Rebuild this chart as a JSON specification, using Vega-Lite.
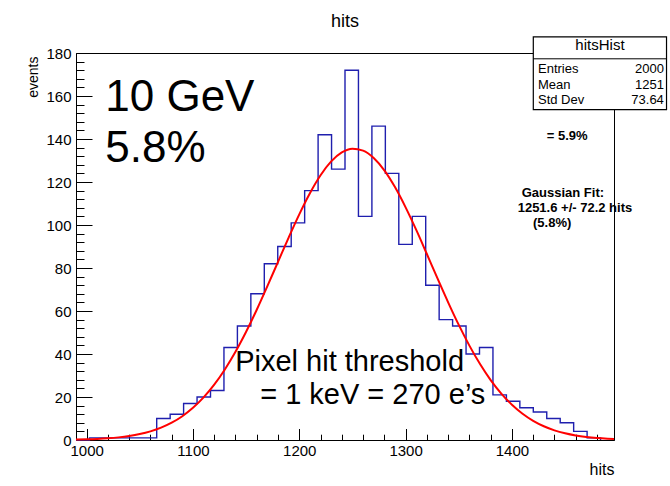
{
  "$schema": "https://vega.github.io/schema/vega-lite/v6.json",
  "width": 538,
  "height": 387,
  "autosize": {"type": "none"},
  "padding": {"left": 76, "top": 53, "right": 56, "bottom": 46},
  "background": "white",
  "config": {
    "font": "Liberation Sans",
    "view": {"stroke": "black", "strokeWidth": 1},
    "text": {"font": "Liberation Sans", "color": "black"}
  },
  "resolve": {"axis": {"x": "independent", "y": "independent"}},
  "datasets": {
    "hist": [
      {"lo": 990, "n": 0}, {"lo": 1002.65, "n": 1}, {"lo": 1015.3, "n": 1}, {"lo": 1027.95, "n": 1},
      {"lo": 1040.6, "n": 1}, {"lo": 1053.25, "n": 1}, {"lo": 1065.9, "n": 10}, {"lo": 1078.55, "n": 12},
      {"lo": 1091.2, "n": 17}, {"lo": 1103.85, "n": 20}, {"lo": 1116.5, "n": 23}, {"lo": 1129.15, "n": 43},
      {"lo": 1141.8, "n": 53}, {"lo": 1154.45, "n": 68}, {"lo": 1167.1, "n": 82}, {"lo": 1179.75, "n": 90},
      {"lo": 1192.4, "n": 101}, {"lo": 1205.05, "n": 116}, {"lo": 1217.7, "n": 142}, {"lo": 1230.35, "n": 126},
      {"lo": 1243, "n": 172}, {"lo": 1255.65, "n": 104}, {"lo": 1268.3, "n": 146}, {"lo": 1280.95, "n": 124},
      {"lo": 1293.6, "n": 91}, {"lo": 1306.25, "n": 104}, {"lo": 1318.9, "n": 72}, {"lo": 1331.55, "n": 56},
      {"lo": 1344.2, "n": 53}, {"lo": 1356.85, "n": 40}, {"lo": 1369.5, "n": 43}, {"lo": 1382.15, "n": 21},
      {"lo": 1394.8, "n": 18}, {"lo": 1407.45, "n": 15}, {"lo": 1420.1, "n": 13}, {"lo": 1432.75, "n": 10},
      {"lo": 1445.4, "n": 8}, {"lo": 1458.05, "n": 4}, {"lo": 1470.7, "n": 1}, {"lo": 1483.35, "n": 0}
    ],
    "fit": [
      {"x": 990, "y": 0.19}, {"x": 1000, "y": 0.31}, {"x": 1010, "y": 0.5}, {"x": 1020, "y": 0.79},
      {"x": 1030, "y": 1.22}, {"x": 1040, "y": 1.85}, {"x": 1050, "y": 2.75}, {"x": 1060, "y": 4.01},
      {"x": 1070, "y": 5.73}, {"x": 1080, "y": 8.04}, {"x": 1090, "y": 11.07}, {"x": 1100, "y": 14.96},
      {"x": 1110, "y": 19.81}, {"x": 1120, "y": 25.73}, {"x": 1130, "y": 32.81}, {"x": 1140, "y": 41.02},
      {"x": 1150, "y": 50.35}, {"x": 1160, "y": 60.58}, {"x": 1170, "y": 71.54}, {"x": 1180, "y": 82.87},
      {"x": 1190, "y": 94.16}, {"x": 1200, "y": 104.96}, {"x": 1210, "y": 114.77}, {"x": 1220, "y": 123.13},
      {"x": 1230, "y": 129.57}, {"x": 1240, "y": 133.77}, {"x": 1250, "y": 135.47}, {"x": 1260, "y": 134.59},
      {"x": 1270, "y": 131.17}, {"x": 1280, "y": 125.42}, {"x": 1290, "y": 117.63}, {"x": 1300, "y": 108.2},
      {"x": 1310, "y": 97.7}, {"x": 1320, "y": 86.5}, {"x": 1330, "y": 75.15}, {"x": 1340, "y": 64.04},
      {"x": 1350, "y": 53.52}, {"x": 1360, "y": 43.9}, {"x": 1370, "y": 35.32}, {"x": 1380, "y": 27.87},
      {"x": 1390, "y": 21.57}, {"x": 1400, "y": 16.38}, {"x": 1410, "y": 12.21}, {"x": 1420, "y": 8.92},
      {"x": 1430, "y": 6.4}, {"x": 1440, "y": 4.5}, {"x": 1450, "y": 3.11}, {"x": 1460, "y": 2.1},
      {"x": 1470, "y": 1.4}, {"x": 1480, "y": 0.91}, {"x": 1490, "y": 0.58}, {"x": 1496, "y": 0.44}
    ]
  },
  "layer": [
    {
      "data": {"name": "hist"},
      "mark": {"type": "line", "interpolate": "step-after", "color": "#1f1fae", "strokeWidth": 1.4},
      "encoding": {
        "x": {
          "field": "lo", "type": "quantitative",
          "scale": {"domain": [990, 1496], "nice": false, "zero": false},
          "axis": {
            "orient": "bottom",
            "title": "hits",
            "values": [1000, 1100, 1200, 1300, 1400],
            "format": "d",
            "tickSize": -11.5,
            "tickColor": "black",
            "tickWidth": 1,
            "domainColor": "black",
            "domainWidth": 1,
            "grid": false,
            "labelFont": "Liberation Sans",
            "labelFontSize": 15,
            "labelColor": "black",
            "labelPadding": 14.5,
            "labelFlush": false,
            "labelOverlap": false,
            "titleFont": "Liberation Sans",
            "titleFontSize": 16,
            "titleFontWeight": "normal",
            "titleColor": "black",
            "titleAlign": "right",
            "titleAnchor": "end",
            "titleBaseline": "alphabetic",
            "titleX": 538,
            "titleY": 34
          }
        },
        "y": {
          "field": "n", "type": "quantitative",
          "scale": {"domain": [0, 180], "nice": false},
          "axis": {
            "orient": "left",
            "title": "events",
            "values": [0, 20, 40, 60, 80, 100, 120, 140, 160, 180],
            "format": "d",
            "tickSize": -16,
            "tickColor": "black",
            "tickWidth": 1,
            "domainColor": "black",
            "domainWidth": 1,
            "grid": false,
            "labelFont": "Liberation Sans",
            "labelFontSize": 15,
            "labelColor": "black",
            "labelPadding": 21,
            "labelFlush": false,
            "labelOverlap": false,
            "titleFont": "Liberation Sans",
            "titleFontSize": 14,
            "titleFontWeight": "normal",
            "titleColor": "black",
            "titleAngle": -90,
            "titleAlign": "right",
            "titleAnchor": "end",
            "titleBaseline": "alphabetic",
            "titleX": -39,
            "titleY": 3
          }
        }
      }
    },
    {
      "data": {"name": "fit"},
      "mark": {"type": "line", "color": "#ff0000", "strokeWidth": 2, "interpolate": "monotone"},
      "encoding": {
        "x": {
          "field": "x", "type": "quantitative",
          "axis": {
            "orient": "bottom",
            "title": null,
            "values": [1020, 1040, 1060, 1080, 1120, 1140, 1160, 1180, 1220, 1240, 1260, 1280, 1320, 1340, 1360, 1380, 1420, 1440, 1460, 1480],
            "tickSize": -5.8,
            "tickColor": "black",
            "tickWidth": 1,
            "labels": false,
            "domain": false,
            "grid": false
          }
        },
        "y": {
          "field": "y", "type": "quantitative",
          "axis": {
            "orient": "left",
            "title": null,
            "values": [4, 8, 12, 16, 24, 28, 32, 36, 44, 48, 52, 56, 64, 68, 72, 76, 84, 88, 92, 96, 104, 108, 112, 116, 124, 128, 132, 136, 144, 148, 152, 156, 164, 168, 172, 176],
            "tickSize": -8,
            "tickColor": "black",
            "tickWidth": 1,
            "labels": false,
            "domain": false,
            "grid": false
          }
        }
      }
    },
    {
      "data": {"values": [{"label": "hits"}]},
      "mark": {"type": "text", "fontSize": 18, "align": "center", "baseline": "alphabetic"},
      "encoding": {"x": {"datum": 1243.1, "type": "quantitative", "axis": null}, "y": {"datum": 191.9, "type": "quantitative", "axis": null}, "text": {"field": "label"}}
    },
    {
      "data": {"values": [{"label": "10 GeV"}]},
      "mark": {"type": "text", "fontSize": 44, "align": "left", "baseline": "alphabetic"},
      "encoding": {"x": {"datum": 1017.5, "type": "quantitative", "axis": null}, "y": {"datum": 152.8, "type": "quantitative", "axis": null}, "text": {"field": "label"}}
    },
    {
      "data": {"values": [{"label": "5.8%"}]},
      "mark": {"type": "text", "fontSize": 44, "align": "left", "baseline": "alphabetic"},
      "encoding": {"x": {"datum": 1017.5, "type": "quantitative", "axis": null}, "y": {"datum": 129.1, "type": "quantitative", "axis": null}, "text": {"field": "label"}}
    },
    {
      "data": {"values": [{"label": "Pixel hit threshold"}]},
      "mark": {"type": "text", "fontSize": 29, "align": "left", "baseline": "alphabetic"},
      "encoding": {"x": {"datum": 1139.7, "type": "quantitative", "axis": null}, "y": {"datum": 32.1, "type": "quantitative", "axis": null}, "text": {"field": "label"}}
    },
    {
      "data": {"values": [{"label": "= 1 keV = 270 e’s"}]},
      "mark": {"type": "text", "fontSize": 29, "align": "left", "baseline": "alphabetic"},
      "encoding": {"x": {"datum": 1163.2, "type": "quantitative", "axis": null}, "y": {"datum": 16.6, "type": "quantitative", "axis": null}, "text": {"field": "label"}}
    },
    {
      "data": {"values": [{"label": "= 5.9%"}]},
      "mark": {"type": "text", "fontSize": 13, "fontWeight": "bold", "align": "left", "baseline": "alphabetic"},
      "encoding": {"x": {"datum": 1432.7, "type": "quantitative", "axis": null}, "y": {"datum": 139.6, "type": "quantitative", "axis": null}, "text": {"field": "label"}}
    },
    {
      "data": {"values": [{"label": "Gaussian Fit:"}]},
      "mark": {"type": "text", "fontSize": 13, "fontWeight": "bold", "align": "left", "baseline": "alphabetic"},
      "encoding": {"x": {"datum": 1409.2, "type": "quantitative", "axis": null}, "y": {"datum": 112.8, "type": "quantitative", "axis": null}, "text": {"field": "label"}}
    },
    {
      "data": {"values": [{"label": "1251.6 +/- 72.2 hits"}]},
      "mark": {"type": "text", "fontSize": 13, "fontWeight": "bold", "align": "left", "baseline": "alphabetic"},
      "encoding": {"x": {"datum": 1405.4, "type": "quantitative", "axis": null}, "y": {"datum": 106.0, "type": "quantitative", "axis": null}, "text": {"field": "label"}}
    },
    {
      "data": {"values": [{"label": "(5.8%)"}]},
      "mark": {"type": "text", "fontSize": 13, "fontWeight": "bold", "align": "left", "baseline": "alphabetic"},
      "encoding": {"x": {"datum": 1419.8, "type": "quantitative", "axis": null}, "y": {"datum": 99.2, "type": "quantitative", "axis": null}, "text": {"field": "label"}}
    },
    {
      "data": {"values": [{"box": "hitsHist"}]},
      "mark": {"type": "rect", "fill": "white", "stroke": "black", "strokeWidth": 1.2},
      "encoding": {"x": {"datum": 1420.1, "type": "quantitative", "axis": null}, "x2": {"datum": 1545.4}, "y": {"datum": 187.5, "type": "quantitative", "axis": null}, "y2": {"datum": 153.7}}
    },
    {
      "data": {"values": [{"box": "hitsHist"}]},
      "mark": {"type": "rule", "color": "black", "strokeWidth": 1},
      "encoding": {"x": {"datum": 1420.1, "type": "quantitative", "axis": null}, "x2": {"datum": 1545.4}, "y": {"datum": 177.3, "type": "quantitative", "axis": null}}
    },
    {
      "data": {"values": [{"label": "hitsHist"}]},
      "mark": {"type": "text", "fontSize": 15, "align": "center", "baseline": "alphabetic"},
      "encoding": {"x": {"datum": 1482.8, "type": "quantitative", "axis": null}, "y": {"datum": 181.3, "type": "quantitative", "axis": null}, "text": {"field": "label"}}
    },
    {
      "data": {"values": [{"label": "Entries"}]},
      "mark": {"type": "text", "fontSize": 13, "align": "left", "baseline": "alphabetic"},
      "encoding": {"x": {"datum": 1424.5, "type": "quantitative", "axis": null}, "y": {"datum": 170.8, "type": "quantitative", "axis": null}, "text": {"field": "label"}}
    },
    {
      "data": {"values": [{"label": "2000"}]},
      "mark": {"type": "text", "fontSize": 13, "align": "right", "baseline": "alphabetic"},
      "encoding": {"x": {"datum": 1542.9, "type": "quantitative", "axis": null}, "y": {"datum": 170.8, "type": "quantitative", "axis": null}, "text": {"field": "label"}}
    },
    {
      "data": {"values": [{"label": "Mean"}]},
      "mark": {"type": "text", "fontSize": 13, "align": "left", "baseline": "alphabetic"},
      "encoding": {"x": {"datum": 1424.5, "type": "quantitative", "axis": null}, "y": {"datum": 163.4, "type": "quantitative", "axis": null}, "text": {"field": "label"}}
    },
    {
      "data": {"values": [{"label": "1251"}]},
      "mark": {"type": "text", "fontSize": 13, "align": "right", "baseline": "alphabetic"},
      "encoding": {"x": {"datum": 1542.9, "type": "quantitative", "axis": null}, "y": {"datum": 163.4, "type": "quantitative", "axis": null}, "text": {"field": "label"}}
    },
    {
      "data": {"values": [{"label": "Std Dev"}]},
      "mark": {"type": "text", "fontSize": 13, "align": "left", "baseline": "alphabetic"},
      "encoding": {"x": {"datum": 1424.5, "type": "quantitative", "axis": null}, "y": {"datum": 156.1, "type": "quantitative", "axis": null}, "text": {"field": "label"}}
    },
    {
      "data": {"values": [{"label": "73.64"}]},
      "mark": {"type": "text", "fontSize": 13, "align": "right", "baseline": "alphabetic"},
      "encoding": {"x": {"datum": 1542.9, "type": "quantitative", "axis": null}, "y": {"datum": 156.1, "type": "quantitative", "axis": null}, "text": {"field": "label"}}
    }
  ]
}
